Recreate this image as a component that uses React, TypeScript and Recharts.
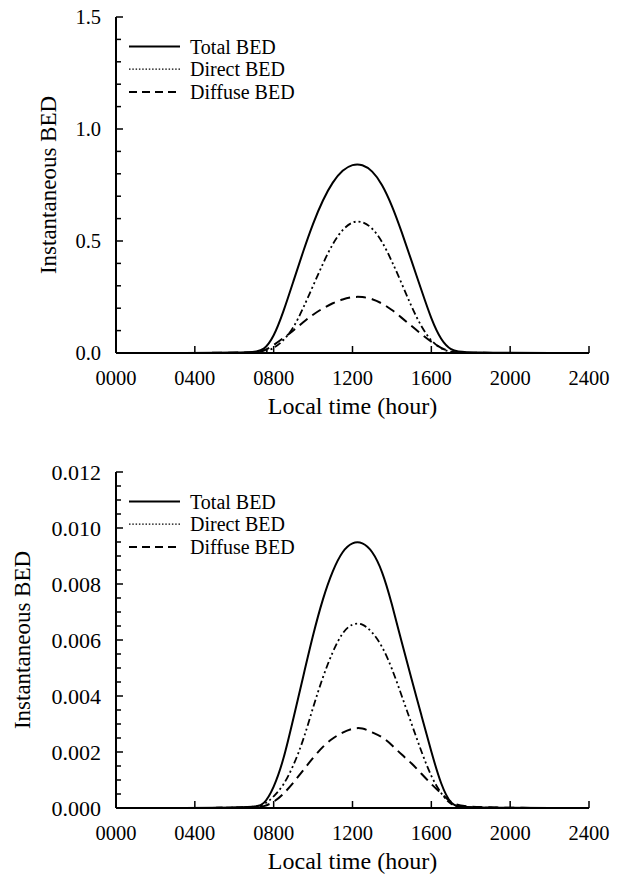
import { Label, Line, LineChart, XAxis, YAxis } from 'recharts';

const FONT = 'Liberation Serif, DejaVu Serif, serif';

// local time in hours (0 = 0000, 24 = 2400)
const hours = [0, 7, 7.5, 8, 8.5, 9, 9.5, 10, 10.5, 11, 11.5, 12, 12.5, 13, 13.5, 14, 14.5, 15, 15.5, 16, 16.5, 17, 17.5, 24];

// upper panel
const topTotal = [0, 0, 0.012, 0.07, 0.185, 0.32, 0.455, 0.58, 0.685, 0.765, 0.818, 0.843, 0.843, 0.815, 0.755, 0.66, 0.54, 0.41, 0.28, 0.15, 0.055, 0.012, 0, 0];
const topDirect = [0, 0, 0.003, 0.02, 0.055, 0.11, 0.2, 0.3, 0.4, 0.49, 0.553, 0.588, 0.588, 0.56, 0.5, 0.41, 0.31, 0.205, 0.115, 0.052, 0.018, 0.003, 0, 0];
const topDiffuse = [0, 0, 0.008, 0.035, 0.067, 0.1, 0.138, 0.172, 0.2, 0.223, 0.24, 0.251, 0.251, 0.242, 0.222, 0.193, 0.157, 0.12, 0.084, 0.05, 0.021, 0.004, 0, 0];

// lower panel
const botTotal = [0, 0, 0.0001, 0.0007, 0.0017, 0.0032, 0.0047, 0.0062, 0.0075, 0.0085, 0.0092, 0.0095, 0.0095, 0.0092, 0.0085, 0.0073, 0.0059, 0.0046, 0.0033, 0.002, 0.0008, 0.0001, 0, 0];
const botDirect = [0, 0, 0.0001, 0.0004, 0.0008, 0.0015, 0.0024, 0.0036, 0.0047, 0.0056, 0.0063, 0.0066, 0.0066, 0.0063, 0.0058, 0.005, 0.004, 0.003, 0.002, 0.0011, 0.0005, 0.0001, 0, 0];
const botDiffuse = [0, 0, 0.00005, 0.0002, 0.0005, 0.0009, 0.00135, 0.0018, 0.0022, 0.0025, 0.0027, 0.00285, 0.00287, 0.0027, 0.00255, 0.00225, 0.0019, 0.0016, 0.00122, 0.00085, 0.00052, 0.0002, 0, 0];

const xTicks = [0, 4, 8, 12, 16, 20, 24];

const topYTicks = [0, 0.1, 0.2, 0.3, 0.4, 0.5, 0.6, 0.7, 0.8, 0.9, 1.0, 1.1, 1.2, 1.3, 1.4, 1.5];
const topYLabels = [0, 0.5, 1.0, 1.5];

const botYTicks = [0, 0.0005, 0.001, 0.0015, 0.002, 0.0025, 0.003, 0.0035, 0.004, 0.0045, 0.005, 0.0055, 0.006, 0.0065, 0.007, 0.0075, 0.008, 0.0085, 0.009, 0.0095, 0.01, 0.0105, 0.011, 0.0115, 0.012];
const botYLabels = [0, 0.002, 0.004, 0.006, 0.008, 0.01, 0.012];

const seriesNames = ['Total BED', 'Direct BED', 'Diffuse BED'];

const isMajor = (v: number, labels: number[]) => labels.some((l) => Math.abs(l - v) < 1e-9);

const LeftTick = (props: any) => {
  const { x, y, payload, labels, digits, fontSize } = props;
  const major = isMajor(payload.value, labels);
  return (
    <g>
      <line x1={x} x2={x + (major ? 7 : 5)} y1={y} y2={y} stroke="#000" strokeWidth={1.5} />
      {major && (
        <text x={x - 15} y={y} dy={fontSize * 0.36} textAnchor="end" style={{ fontFamily: FONT }} fontSize={fontSize} fill="#000">
          {payload.value.toFixed(digits)}
        </text>
      )}
    </g>
  );
};

const RightTick = (props: any) => {
  const { x, y, payload, labels } = props;
  const major = isMajor(payload.value, labels);
  return <line x1={x} x2={x - (major ? 7 : 5)} y1={y} y2={y} stroke="#000" strokeWidth={1.5} />;
};

const BottomTick = (props: any) => {
  const { x, y, payload } = props;
  return (
    <g>
      <line x1={x} x2={x} y1={y} y2={y - 7} stroke="#000" strokeWidth={1.5} />
      <text x={x} y={y + 32} textAnchor="middle" style={{ fontFamily: FONT }} fontSize={20.5} fill="#000">
        {String(payload.value * 100).padStart(4, '0')}
      </text>
    </g>
  );
};

const TopTick = (props: any) => {
  const { x, y } = props;
  return <line x1={x} x2={x} y1={y} y2={y + 7} stroke="#000" strokeWidth={1.5} />;
};

const LegendBox = ({ top }: { top: number }) => (
  <svg width={230} height={90} style={{ position: 'absolute', left: 120, top: top + 12 }}>
    {seriesNames.map((name, i) => {
      const cy = 17.5 + i * 22.7;
      const dash = i === 0 ? undefined : i === 1 ? '1.5 1.8' : '8 5';
      return (
        <g key={name}>
          <line x1={9} x2={60} y1={cy} y2={cy} stroke="#000" strokeWidth={i === 1 ? 1.3 : 2} strokeDasharray={dash} />
          <text x={70} y={cy + 7} style={{ fontFamily: FONT }} fontSize={20} fill="#000">
            {name}
          </text>
        </g>
      );
    })}
  </svg>
);

interface PanelProps {
  total: number[];
  direct: number[];
  diffuse: number[];
  yTicks: number[];
  yLabels: number[];
  digits: number;
  tickFont: number;
  titleX: number;
  top: number;
  height: number;
  marginTop: number;
}

const Panel = (p: PanelProps) => {
  const data = hours.map((h, i) => ({ hour: h, total: p.total[i], direct: p.direct[i], diffuse: p.diffuse[i] }));
  const yMax = p.yTicks[p.yTicks.length - 1];
  return (
    <div style={{ position: 'absolute', left: 0, top: p.top, width: 621, height: p.height }}>
      <LineChart
        width={621}
        height={p.height}
        data={data}
        margin={{ top: p.marginTop, right: 32, bottom: p.height - p.marginTop - 336 - 60, left: 0 }}
      >
        <XAxis
          dataKey="hour"
          type="number"
          domain={[0, 24]}
          ticks={xTicks}
          interval={0}
          height={60}
          tickSize={0}
          tickMargin={0}
          axisLine={{ stroke: '#000', strokeWidth: 2 }}
          tick={(t: any) => <BottomTick {...t} />}
        >
          <Label
            content={(lp: any) => {
              const vb = lp.viewBox;
              return (
                <text x={vb.x + vb.width / 2} y={vb.y + 61} textAnchor="middle" style={{ fontFamily: FONT }} fontSize={24} fill="#000">
                  Local time (hour)
                </text>
              );
            }}
          />
        </XAxis>
        <XAxis
          xAxisId="t"
          dataKey="hour"
          type="number"
          orientation="top"
          domain={[0, 24]}
          ticks={xTicks}
          interval={0}
          height={0}
          tickSize={0}
          tickMargin={0}
          axisLine={{ stroke: '#000', strokeWidth: 2 }}
          tick={(t: any) => <TopTick {...t} />}
        />
        <YAxis
          type="number"
          domain={[0, yMax]}
          ticks={p.yTicks}
          interval={0}
          width={116}
          tickSize={0}
          tickMargin={0}
          axisLine={{ stroke: '#000', strokeWidth: 2 }}
          tick={(t: any) => <LeftTick {...t} labels={p.yLabels} digits={p.digits} fontSize={p.tickFont} />}
        >
          <Label
            content={(lp: any) => {
              const vb = lp.viewBox;
              const cx = p.titleX;
              const cy = vb.y + vb.height / 2;
              return (
                <text
                  x={cx}
                  y={cy}
                  transform={`rotate(-90 ${cx} ${cy})`}
                  textAnchor="middle"
                  dominantBaseline="central"
                  style={{ fontFamily: FONT }}
                  fontSize={23}
                  fill="#000"
                >
                  Instantaneous BED
                </text>
              );
            }}
          />
        </YAxis>
        <YAxis
          yAxisId="r"
          orientation="right"
          type="number"
          domain={[0, yMax]}
          ticks={p.yTicks}
          interval={0}
          width={0}
          tickSize={0}
          tickMargin={0}
          axisLine={{ stroke: '#000', strokeWidth: 2 }}
          tick={(t: any) => <RightTick {...t} labels={p.yLabels} />}
        />
        <Line dataKey="diffuse" type="basis" stroke="#000" strokeWidth={2} strokeDasharray="10 6" dot={false} isAnimationActive={false} />
        <Line dataKey="direct" type="basis" stroke="#000" strokeWidth={1.8} strokeDasharray="7 3 2 3 2 3" dot={false} isAnimationActive={false} />
        <Line dataKey="total" type="basis" stroke="#000" strokeWidth={2} dot={false} isAnimationActive={false} />
      </LineChart>
      <LegendBox top={p.marginTop} />
    </div>
  );
};

export default function App() {
  return (
    <div style={{ position: 'absolute', left: 0, top: 0, width: 621, height: 876, background: '#fff' }}>
      <Panel total={topTotal} direct={topDirect} diffuse={topDiffuse} yTicks={topYTicks} yLabels={topYLabels} digits={1} tickFont={20.5} titleX={48} top={0} height={440} marginTop={17} />
      <Panel total={botTotal} direct={botDirect} diffuse={botDiffuse} yTicks={botYTicks} yLabels={botYLabels} digits={3} tickFont={22} titleX={22} top={440} height={436} marginTop={32} />
    </div>
  );
}
